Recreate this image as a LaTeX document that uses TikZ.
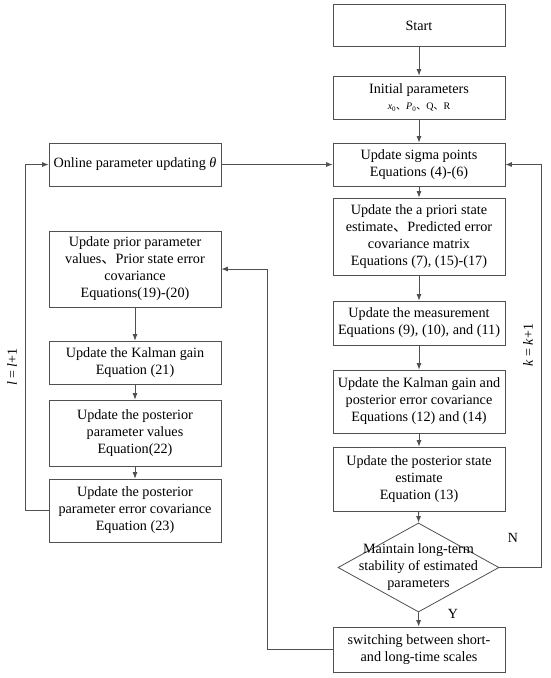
\documentclass[tikz,border=0pt]{standalone}
\usepackage{fontspec}
\setmainfont{Liberation Serif}
\newfontfamily\cjk{Noto Sans CJK SC}
\newcommand\dun{{\cjk 、}}
\usetikzlibrary{arrows.meta,shapes.geometric}
\begin{document}
\begin{tikzpicture}[x=1pt,y=-1pt,
  box/.style={draw=linec, line width=0.8pt, minimum width=172pt, inner sep=1pt, align=center, font=\fontsize{14.2}{17}\selectfont},
  txt/.style={align=center, inner sep=0pt, font=\fontsize{14.2}{17}\selectfont},
  conn/.style={draw=linec, line width=0.8pt},
  arr/.style={conn, -{Latex[length=6.5pt,width=5pt]}},
  lab/.style={font=\fontsize{14}{16}\selectfont}]
\definecolor{linec}{HTML}{505050}
\useasboundingbox (0,0) rectangle (550,678);
\fill[white] (0,0) rectangle (550,678);
% right column
\node[box, minimum height=42pt] (start) at (419,25.5) {Start};
\node[box, minimum height=43pt] (init) at (419,97.5) {Initial parameters\\[-1pt]{\fontsize{10}{12}\selectfont \textit{x}\textsubscript{0}\dun\textit{P}\textsubscript{0}\dun Q\dun R}};
\node[box, minimum height=43pt] (sigma) at (419,164.5) {Update sigma points\\Equations (4)-(6)};
\node[box, minimum height=77pt] (apriori) at (419,236.5) {Update the a priori state\\estimate\dun Predicted error\\covariance matrix\\Equations (7), (15)-(17)};
\node[box, minimum height=44pt] (meas) at (419,323) {Update the measurement\\Equations (9), (10), and (11)};
\node[box, minimum height=63pt] (kal) at (419,401.5) {Update the Kalman gain and\\posterior error covariance\\Equations (12) and (14)};
\node[box, minimum height=64pt] (post) at (419,479) {Update the posterior state\\estimate\\Equation (13)};
\node[diamond, draw=linec, line width=0.8pt, minimum width=161pt, minimum height=89pt, inner sep=0pt] (dec) at (418.5,567.5) {};
\node[txt] (dectext) at (dec.center) {Maintain long-term\\stability of estimated\\parameters};
\node[box, minimum height=45pt] (switch) at (419,649.5) {switching between short-\\and long-time scales};
% left column
\node[box, minimum height=43pt] (online) at (135,164.5) {Online parameter updating \textit{θ}};
\node[box, minimum height=76pt] (prior) at (135,269) {Update prior parameter\\values\dun Prior state error\\covariance\\Equations(19)-(20)};
\node[box, minimum height=43pt] (lkal) at (135,362.5) {Update the Kalman gain\\Equation (21)};
\node[box, minimum height=66pt] (lpost) at (135,433) {Update the posterior\\parameter values\\Equation(22)};
\node[box, minimum height=63pt] (lcov) at (135,510.5) {Update the posterior\\parameter error covariance\\Equation (23)};
% coordinates
\coordinate (kr) at (541,567.5);
\coordinate (sl) at (267,649.5);
\coordinate (ll) at (25,510.5);
% connectors right
\draw[arr] (start) -- (init);
\draw[arr] (init) -- (sigma);
\draw[arr] (sigma) -- (apriori);
\draw[arr] (apriori) -- (meas);
\draw[arr] (meas) -- (kal);
\draw[arr] (kal) -- (post);
\draw[arr] (post) -- (dec.north);
\draw[arr] (dec.south) -- (switch);
\draw[arr] (dec.east) -- (kr) |- (sigma.east);
\draw[arr] (online) -- (sigma);
\draw[arr] (switch.west) -- (sl) |- (prior.east);
% connectors left
\draw[arr] (prior) -- (lkal);
\draw[arr] (lkal) -- (lpost);
\draw[arr] (lpost) -- (lcov);
\draw[arr] (lcov.west) -- (ll) |- (online.west);
% labels
\node[lab] (nlab) at (513,538) {N};
\node[lab] (ylab) at (453,614) {Y};
\node[lab, rotate=90] (klab) at (528,345) {\textit{k} = \textit{k}+1};
\node[lab, rotate=90] (llab) at (12,367) {\textit{l} = \textit{l}+1};
\end{tikzpicture}
\end{document}
